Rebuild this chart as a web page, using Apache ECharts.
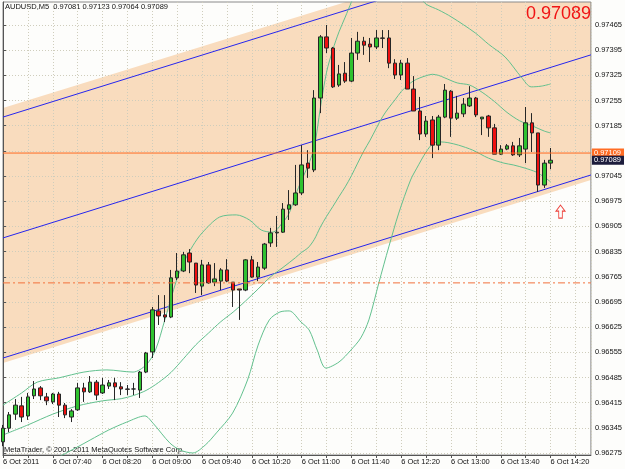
<!DOCTYPE html>
<html>
<head>
<meta charset="utf-8">
<script src="https://cdn.jsdelivr.net/npm/echarts@6/dist/echarts.min.js"></script>
<style>
  html, body { margin: 0; padding: 0; background: #fdfdfb; }
  #chart { width: 625px; height: 469px; }
</style>
</head>
<body>
<div id="chart"></div>
<script>
// AUDUSD M5, 6 Oct 2011, bars 07:00 .. 14:20 (bar index 0..88)
const opens = [0.96306,0.96344,0.96383,0.96406,0.96378,0.96434,0.96456,0.96431,0.96417,0.96439,
  0.96408,0.96375,0.96395,0.96456,0.96445,0.96472,0.96442,0.96461,0.96470,0.96459,
  0.96453,0.96453,0.96450,0.96500,0.96556,0.96670,0.96659,0.96653,0.96762,0.96781,
  0.96831,0.96803,0.96739,0.96798,0.96750,0.96753,0.96784,0.96750,0.96731,0.96728,
  0.96812,0.96764,0.96789,0.96859,0.96887,0.96889,0.96953,0.96965,0.96998,0.97081,
  0.97062,0.97262,0.97432,0.97401,0.97298,0.97331,0.97309,0.97387,0.97420,0.97412,
  0.97404,0.97429,0.97429,0.97359,0.97326,0.97359,0.97287,0.97226,0.97162,0.97201,
  0.97131,0.97209,0.97281,0.97206,0.97218,0.97240,0.97262,0.97204,0.97212,0.97179,
  0.97106,0.97120,0.97129,0.97104,0.97120,0.97193,0.97165,0.97020,0.97081];
const closes = [0.96344,0.96381,0.96408,0.96375,0.96431,0.96453,0.96434,0.96420,0.96439,0.96408,
  0.96381,0.96392,0.96456,0.96445,0.96472,0.96436,0.96464,0.96470,0.96459,0.96453,
  0.96452,0.96453,0.96500,0.96553,0.96673,0.96656,0.96653,0.96762,0.96781,0.96826,
  0.96806,0.96742,0.96798,0.96748,0.96759,0.96784,0.96753,0.96728,0.96728,0.96812,
  0.96764,0.96792,0.96856,0.96887,0.96889,0.96953,0.96965,0.96998,0.97076,0.97067,
  0.97262,0.97432,0.97401,0.97293,0.97329,0.97309,0.97387,0.97420,0.97409,0.97404,
  0.97429,0.97428,0.97359,0.97326,0.97359,0.97287,0.97226,0.97162,0.97198,0.97131,
  0.97209,0.97284,0.97206,0.97220,0.97245,0.97262,0.97215,0.97209,0.97179,0.97106,
  0.97120,0.97129,0.97104,0.97129,0.97193,0.97165,0.97020,0.97081,0.97089];
const lows = [0.96294,0.96333,0.96367,0.96361,0.96367,0.96425,0.96422,0.96408,0.96411,0.96375,
  0.96372,0.96361,0.96392,0.96417,0.96442,0.96422,0.96439,0.96453,0.96422,0.96436,
  0.96436,0.96436,0.96428,0.96497,0.96539,0.96631,0.96639,0.96650,0.96756,0.96778,
  0.96775,0.96720,0.96714,0.96745,0.96739,0.96728,0.96750,0.96681,0.96645,0.96725,
  0.96762,0.96753,0.96784,0.96848,0.96848,0.96887,0.96923,0.96962,0.96992,0.97040,
  0.97056,0.97220,0.97387,0.97290,0.97293,0.97304,0.97306,0.97368,0.97382,0.97362,
  0.97398,0.97401,0.97345,0.97315,0.97312,0.97287,0.97226,0.97145,0.97154,0.97095,
  0.97117,0.97206,0.97154,0.97201,0.97209,0.97237,0.97209,0.97159,0.97154,0.97106,
  0.97104,0.97117,0.97101,0.97098,0.97081,0.97112,0.97001,0.97012,0.97064];
const highs = [0.96353,0.96389,0.96425,0.96431,0.96442,0.96475,0.96461,0.96442,0.96442,0.96445,
  0.96414,0.96397,0.96470,0.96470,0.96489,0.96478,0.96484,0.96478,0.96484,0.96472,
  0.96464,0.96470,0.96503,0.96556,0.96681,0.96714,0.96714,0.96784,0.96831,0.96834,
  0.96842,0.96803,0.96812,0.96806,0.96803,0.96789,0.96814,0.96750,0.96731,0.96814,
  0.96823,0.96806,0.96859,0.96901,0.96934,0.96970,0.97006,0.97076,0.97131,0.97117,
  0.97284,0.97437,0.97465,0.97404,0.97354,0.97362,0.97429,0.97446,0.97432,0.97429,
  0.97451,0.97451,0.97451,0.97370,0.97368,0.97373,0.97323,0.97265,0.97212,0.97212,
  0.97215,0.97301,0.97284,0.97268,0.97262,0.97295,0.97265,0.97209,0.97215,0.97190,
  0.97131,0.97134,0.97140,0.97151,0.97237,0.97220,0.97165,0.97090,0.97123];

// Bollinger band lines: [bar index, price]
const bandUpper = [[0,0.96408],[3,0.96442],[5.5,0.96472],[9,0.96484],[13,0.96500],[16.7,0.96506],
  [20.9,0.96500],[23,0.96520],[24.5,0.96561],[26,0.96645],[27.9,0.96756],[29,0.96803],[30.5,0.96851],
  [32,0.96887],[34.8,0.96931],[37.5,0.96937],[39.6,0.96923],[41.5,0.96895],[43.3,0.96889],[45,0.96917],
  [46,0.96942],[47,0.96992],[48,0.97034],[49,0.97073],[50,0.97123],[51,0.97234],[52,0.97334],
  [53,0.97396],[54,0.97446],[55,0.97487],[56,0.97529],[57,0.97568],[59,0.97618],[62,0.97632],
  [65,0.97590],[67,0.97543],[68,0.97523],[70,0.97507],[72.1,0.97487],[75.9,0.97443],[78,0.97412],
  [80.7,0.97376],[83.3,0.97320],[84.9,0.97293],[86.5,0.97295],[88,0.97301]];
const bandMiddle = [[0,0.96325],[4,0.96353],[8,0.96383],[12,0.96406],[16,0.96420],[19,0.96426],
  [21,0.96435],[23,0.96449],[25,0.96471],[27,0.96499],[29,0.96537],[31,0.96576],[33,0.96608],
  [35,0.96640],[37,0.96667],[39,0.96698],[41,0.96731],[43,0.96765],[45,0.96791],[47,0.96818],
  [48,0.96833],[49,0.96845],[50,0.96868],[51,0.96903],[52,0.96933],[53,0.96960],[54,0.96988],
  [55,0.97015],[56,0.97046],[57,0.97081],[58,0.97115],[59,0.97145],[60,0.97178],[61,0.97210],
  [62,0.97235],[63,0.97257],[64,0.97280],[65,0.97297],[66,0.97310],[67,0.97318],[68,0.97324],
  [69,0.97328],[70,0.97325],[71,0.97318],[73,0.97304],[75,0.97298],[77,0.97278],[79,0.97252],
  [81,0.97222],[83,0.97199],[85,0.97185],[87,0.97170],[88,0.97165]];
const bandLower = [[0,0.96236],[4,0.96228],[8,0.96256],[12,0.96292],[14,0.96311],[17,0.96339],
  [19.9,0.96361],[22.8,0.96378],[24.1,0.96358],[26.8,0.96303],[28.5,0.96283],[30.5,0.96275],
  [32.5,0.96297],[34.3,0.96331],[36.9,0.96386],[39.3,0.96478],[41,0.96575],[42.8,0.96645],
  [44.5,0.96667],[46,0.96670],[47.9,0.96639],[49.2,0.96617],[50.5,0.96561],[51.9,0.96511],
  [54,0.96528],[55.9,0.96561],[57.5,0.96595],[58.8,0.96645],[60.4,0.96748],[62,0.96848],
  [63.6,0.96942],[65.5,0.97034],[66.5,0.97067],[68,0.97112],[69.2,0.97137],[70.3,0.97140],
  [71.5,0.97138],[73.2,0.97131],[75.5,0.97117],[78,0.97095],[80.5,0.97081],[82,0.97076],
  [83.9,0.97067],[85.7,0.97056],[87,0.97042],[88,0.97029]];

// regression channel, ends at left and right edge
const channelX = [0, 94.48];
const channelTop = [0.97209, 0.97718];
const channelMid = [0.96873, 0.97382];
const channelBottom = [0.96539, 0.97048];
const fillTop = [0.97234, 0.97740];
const fillBottom = [0.96525, 0.97034];

const alertLevel = 0.97109;
const bidPrice = 0.97089;
const dashLevel = 0.96748;
const arrowMark = [89.6, 0.96946];

const yTicks = [0.96275,0.96345,0.96415,0.96485,0.96555,0.96625,0.96695,0.96765,0.96835,
  0.96905,0.96975,0.97045,0.97115,0.97185,0.97255,0.97325,0.97395,0.97465];
const yLabels = yTicks.filter((v) => v !== 0.97115); // hidden under the price boxes
const xTickLabels = ["6 Oct 2011","6 Oct 07:40","6 Oct 08:20","6 Oct 09:00","6 Oct 09:40",
  "6 Oct 10:20","6 Oct 11:00","6 Oct 11:40","6 Oct 12:20","6 Oct 13:00","6 Oct 13:40","6 Oct 14:20"];

const candles = opens.map((o, i) => [i, o, closes[i], lows[i], highs[i]]);
const chLine = (arr) => channelX.map((x, k) => [x, arr[k]]);
const hLine = (level) => channelX.map((x) => [x, level]);

const FONT = "Liberation Sans";
const chart = echarts.init(document.getElementById("chart"));

// horizontal level with a price box on the right axis
const levelSeries = (level, color, boxColor, dash, showLine) => ({
  type: "line",
  data: hLine(level),
  showSymbol: false,
  silent: true,
  z: 6,
  lineStyle: { color: color, width: 1, type: dash, opacity: showLine ? 1 : 0 },
  endLabel: boxColor
    ? {
        show: true, distance: 1,
        formatter: level.toFixed(5),
        color: "#fff", backgroundColor: boxColor,
        fontSize: 7.5, fontFamily: FONT, padding: [1, 3, 0, 2],
      }
    : { show: false },
});

chart.setOption({
  animation: false,
  backgroundColor: "#fdfdfb",
  textStyle: { fontFamily: FONT },
  grid: {
    left: 2.5, right: 32, top: 2, bottom: 14,
    show: true, borderColor: "#8a8a8a", borderWidth: 1,
  },
  xAxis: {
    type: "value",
    min: 0,
    max: 94.48,
    interval: 4,
    axisLine: { show: true, lineStyle: { color: "#555" } },
    axisTick: { show: true, length: 3, lineStyle: { color: "#555" } },
    axisLabel: {
      fontSize: 7.5, color: "#111", align: "left", margin: 3,
      showMaxLabel: false,
      formatter: (v) => (v % 8 === 0 && v / 8 < xTickLabels.length ? xTickLabels[v / 8] : ""),
    },
    splitLine: { show: true, lineStyle: { color: "#cfcdbc", type: [1, 2] } },
  },
  yAxis: {
    type: "value",
    position: "right",
    min: 0.962694,
    max: 0.97529,
    axisLine: { show: true, lineStyle: { color: "#555" } },
    axisTick: { show: true, length: 3, customValues: yTicks, lineStyle: { color: "#555" } },
    axisLabel: {
      fontSize: 7.5, color: "#111", margin: 4,
      customValues: yLabels,
      formatter: (v) => v.toFixed(5),
    },
    splitLine: { show: true, lineStyle: { color: "#cfcdbc", type: [1, 2] } },
  },
  graphic: [
    {
      type: "text", left: 5, top: 3, silent: true,
      style: { text: "AUDUSD,M5  0.97081 0.97123 0.97064 0.97089", fill: "#111", font: "7.5px " + FONT },
    },
    {
      type: "text", left: 4, top: 446, silent: true,
      style: { text: "MetaTrader, \u00a9 2001-2011 MetaQuotes Software Corp.", fill: "#111", font: "7.5px " + FONT },
    },
    {
      type: "text", right: 34, top: 5, silent: true,
      style: { text: bidPrice.toFixed(5), fill: "#f01414", font: "18px " + FONT },
    },
  ],
  series: [
    {
      // channel background
      type: "custom",
      z: -1,
      silent: true,
      clip: true,
      data: [0],
      renderItem: (params, api) => ({
        type: "polygon",
        shape: {
          points: [
            api.coord([channelX[0], fillTop[0]]),
            api.coord([channelX[1], fillTop[1]]),
            api.coord([channelX[1], fillBottom[1]]),
            api.coord([channelX[0], fillBottom[0]]),
          ],
        },
        style: { fill: "#f9dcbe" },
      }),
    },
    ...[channelTop, channelMid, channelBottom].map((arr) => ({
      type: "line",
      data: chLine(arr),
      showSymbol: false,
      silent: true,
      lineStyle: { color: "#2626ee", width: 1 },
      z: 3,
    })),
    levelSeries(dashLevel, "#f2703c", null, [7, 3, 2, 3], true),
    levelSeries(alertLevel, "#ff6c24", "#ff6c24", "solid", true),
    levelSeries(bidPrice, "#1c1c3c", "#1c1c3c", "solid", false),
    ...[bandUpper, bandMiddle, bandLower].map((arr) => ({
      type: "line",
      data: arr,
      showSymbol: false,
      silent: true,
      smooth: 0.3,
      lineStyle: { color: "#62c08e", width: 1 },
      z: 4,
    })),
    {
      type: "candlestick",
      data: candles,
      barWidth: 4,
      z: 5,
      itemStyle: {
        color: "#2fc22f",
        color0: "#ee1010",
        borderColor: "#262626",
        borderColor0: "#262626",
        borderColorDoji: "#262626",
        borderWidth: 1,
      },
    },
    {
      type: "scatter",
      data: [arrowMark],
      symbol: "path://M5,0L10,6L7,6L7,13L3,13L3,6L0,6Z",
      symbolSize: [9, 13],
      silent: true,
      z: 6,
      itemStyle: { color: "rgba(0,0,0,0)", borderColor: "#e8140c", borderWidth: 1 },
    },
  ],
});
</script>
</body>
</html>
